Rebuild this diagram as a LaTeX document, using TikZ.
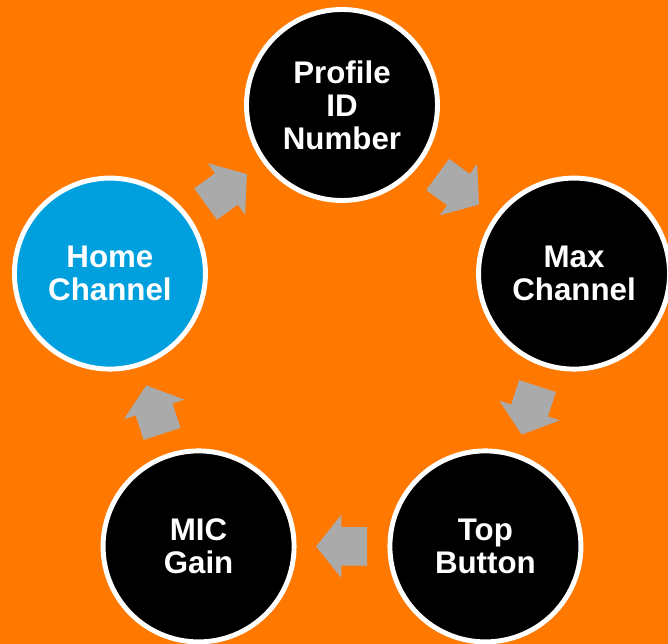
\documentclass[tikz,border=0pt]{standalone}
\usepackage{fontspec}
\setmainfont{Liberation Sans}
\usepackage{xcolor}
\usetikzlibrary{shapes.arrows,calc}

\definecolor{bgorange}{RGB}{255,120,0}
\definecolor{homeblue}{RGB}{0,160,222}
\definecolor{arrowgray}{RGB}{170,170,170}

\tikzset{
  stage/.style={circle, fill=black, draw=white, line width=2.8pt,
    minimum size=3.82cm, inner sep=0pt, text=white, align=center,
    font=\bfseries\fontsize{17.8pt}{18.8pt}\selectfont},
  flow/.style={single arrow, fill=arrowgray, draw=none, anchor=tail,
    inner xsep=0pt, inner ysep=0.38cm, minimum height=1.02cm,
    single arrow head extend=0.25cm, single arrow tip angle=103}
}

\begin{document}
\begin{tikzpicture}
    \fill[bgorange] (-6.84,-5.90) rectangle (6.52,6.98);
    \useasboundingbox (-6.84,-5.90) rectangle (6.52,6.98);

    \node[stage] (prof) at (90:4.88) {Profile\\ID\\Number};
    \node[stage] (max) at (18:4.88) {Max\\Channel};
    \node[stage] (top) at (-54:4.88) {Top\\Button};
    \node[stage] (mic) at (-126:4.88) {MIC\\Gain};
    \node[stage, fill=homeblue] (home) at (162:4.88) {Home\\Channel};

    % block arrows between the circles, tail half a length before the middle
    \node[flow, rotate=-36] (a1) at ($($(prof)!0.5!(max)$)!0.51cm!(prof)$) {};
    \node[flow, rotate=-108] (a2) at ($($(max)!0.5!(top)$)!0.51cm!(max)$) {};
    \node[flow, rotate=180] (a3) at ($($(top)!0.5!(mic)$)!0.51cm!(top)$) {};
    \node[flow, rotate=108] (a4) at ($($(mic)!0.5!(home)$)!0.51cm!(mic)$) {};
    \node[flow, rotate=36] (a5) at ($($(home)!0.5!(prof)$)!0.51cm!(home)$) {};
\end{tikzpicture}
\end{document}
